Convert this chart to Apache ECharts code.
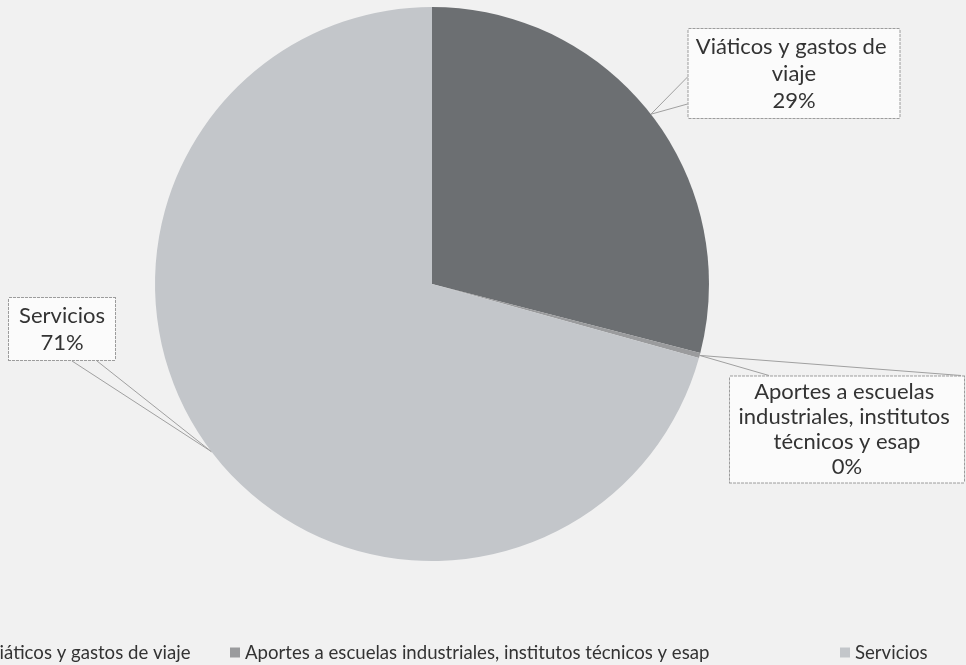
<!DOCTYPE html>
<html>
<head>
<meta charset="utf-8">
<script src="https://cdn.jsdelivr.net/npm/echarts@6/dist/echarts.min.js"></script>
<style>
html,body{margin:0;padding:0;background:#f1f1f1;}
#c{width:966px;height:665px;}
</style>
</head>
<body>
<div id="c"></div>
<script>
// ---- data ----
const categories = ['Viáticos y gastos de viaje', 'Aportes a escuelas industriales, institutos técnicos y esap', 'Servicios'];
const shares = [29, 0.3, 70.7];
const sliceColors = ['#6c6f72', '#9a9b9d', '#c3c6ca'];

// ---- callout box layout (center, size) ----
const boxCenters = [[794, 73.5], [847, 429.5], [62, 329]];
const boxTextWidths = [209, 228, 96];
const boxPaddings = [[4, 1], [3, 3], [4, 5]];
const boxLineHeights = [27, 25, 27];

const chart = echarts.init(document.getElementById('c'));

const data = categories.map((name, i) => ({
  name: name,
  value: shares[i],
  itemStyle: { color: sliceColors[i] },
  label: {
    width: boxTextWidths[i],
    padding: boxPaddings[i],
    lineHeight: boxLineHeights[i]
  }
}));

function wedge(i, rect, tip) {
  const cx = boxCenters[i][0], cy = boxCenters[i][1];
  const left = cx - rect.width / 2, right = cx + rect.width / 2;
  const top = cy - rect.height / 2, bottom = cy + rect.height / 2;
  if (i === 0) return [[left, top + 49], tip, [left, top + 76]];
  if (i === 1) return [[left + 40, top], tip, [right - 4, top]];
  return [[left + 64, bottom], tip, [left + 89, bottom]];
}

const fontFam = 'Lato, "Open Sans", sans-serif';
const legendText = { fontFamily: fontFam, fontSize: 18.6, color: '#333' };

chart.setOption({
  backgroundColor: '#f1f1f1',
  animation: false,
  legend: [
    { left: -33, top: 638, itemWidth: 10, itemHeight: 10, icon: 'rect', itemGap: 0,
      data: [categories[0]], textStyle: legendText },
    { left: 225, top: 638, itemWidth: 10, itemHeight: 10, icon: 'rect', itemGap: 0,
      data: [categories[1]], textStyle: legendText },
    { left: 835, top: 638, itemWidth: 10, itemHeight: 10, icon: 'rect', itemGap: 0,
      data: [categories[2]], textStyle: legendText }
  ],
  series: [{
    type: 'pie',
    center: [432, 284],
    radius: 277,
    startAngle: 90,
    clockwise: true,
    avoidLabelOverlap: false,
    silent: true,
    data: data,
    label: {
      show: true,
      position: 'outside',
      fontFamily: fontFam,
      fontSize: 22,
      color: '#333',
      align: 'center',
      overflow: 'break',
      backgroundColor: '#fbfbfb',
      borderColor: '#9c9c9c',
      borderWidth: 1,
      borderType: [3, 1],
      formatter: p => p.name + '\n' + Math.round(p.percent) + '%'
    },
    labelLine: {
      show: true,
      lineStyle: { color: '#a0a0a0', width: 1 }
    },
    labelLayout: function (params) {
      const i = params.dataIndex;
      const tip = params.labelLinePoints ? params.labelLinePoints[0] : [0, 0];
      return {
        x: boxCenters[i][0],
        y: boxCenters[i][1],
        align: 'center',
        verticalAlign: 'middle',
        labelLinePoints: wedge(i, params.labelRect, tip)
      };
    }
  }]
});
</script>
</body>
</html>
